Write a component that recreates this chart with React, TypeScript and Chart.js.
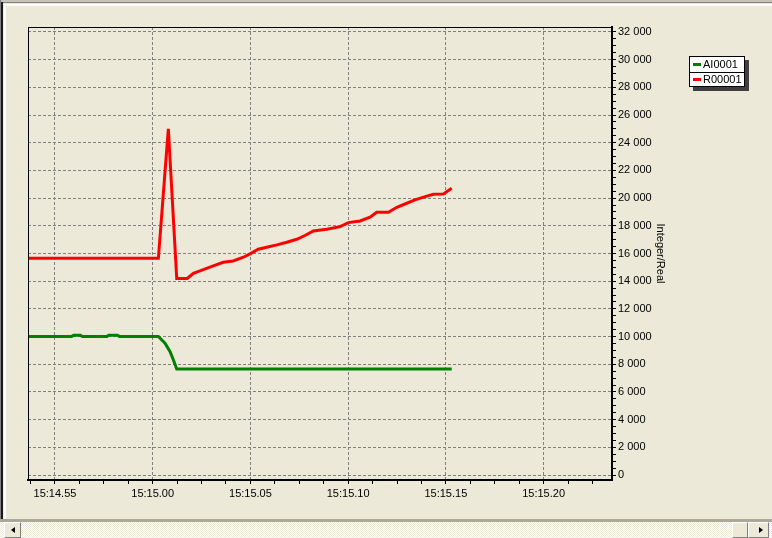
import React, { useEffect, useRef } from 'react';
import { Chart, registerables } from 'chart.js';

Chart.register(...registerables);

// Time axis: seconds after 15:14:55
const xTickLabels = ['15:14.55', '15:15.00', '15:15.05', '15:15.10', '15:15.15', '15:15.20'];
const xMajorStep = 5;
const xMinorStep = 1.25;
const X_MIN = -1.38;
const X_MAX = 28.5;
const Y_MIN = -361;
const Y_MAX = 32361;
const yMajorStep = 2000;
const yMinorStep = 500;
const yTop = 32000;
const axisTitle = 'Integer/Real';
const seriesNames = ['AI0001', 'R00001'];
const seriesColors = ['#008000', '#ff0000'];

const aiTimes = [-1.4, 0.85, 0.95, 1.3, 1.4, 2.65, 2.75, 3.2, 3.3, 5.29, 5.63, 5.89, 6.06, 6.23, 20.3];
const aiValues = [10000, 10000, 10100, 10100, 10000, 10000, 10100, 10100, 10000, 10000, 9520, 8910, 8310, 7660, 7650];

const rTimes = [-1.4, 5.29, 5.8, 6.23, 6.77, 7.08, 7.42, 8.1, 8.61, 9.12, 9.64, 9.98, 10.4, 10.83, 11.35, 11.86, 12.37, 12.79, 13.22, 13.9, 14.59, 15.01, 15.61, 16.12, 16.46, 17.06, 17.49, 18.0, 18.42, 18.94, 19.36, 19.87, 20.3];
const rValues = [15650, 15650, 25000, 14200, 14200, 14570, 14740, 15100, 15370, 15460, 15730, 15970, 16310, 16450, 16620, 16810, 17030, 17300, 17630, 17750, 17940, 18230, 18350, 18620, 18980, 18980, 19340, 19630, 19870, 20110, 20280, 20300, 20710];

const FONT = "'Liberation Sans', Arial, sans-serif";

function isMultiple(v: number, step: number) {
  const r = Math.abs(v / step - Math.round(v / step));
  return r < 1e-6;
}

function fmtThousands(v: number) {
  return String(Math.round(v)).replace(/\B(?=(\d{3})+(?!\d))/g, ' ');
}

export default function App() {
  const ref = useRef<HTMLCanvasElement>(null);

  useEffect(() => {
    document.body.style.margin = '0';
    const framePlugin = {
      id: 'frameLines',
      afterDraw(chart: any) {
        const { ctx, chartArea: a } = chart;
        ctx.save();
        ctx.fillStyle = '#000';
        ctx.fillRect(a.left, a.top, a.right - a.left, 1);
        ctx.fillRect(a.left, a.top, 1, a.bottom - a.top);
        ctx.restore();
      },
    };

    const xTicks: number[] = [];
    for (let v = Math.ceil(X_MIN / xMinorStep) * xMinorStep; v <= X_MAX; v += xMinorStep) xTicks.push(v);
    const yTicks: number[] = [];
    for (let v = 0; v <= yTop; v += yMinorStep) yTicks.push(v);

    const chart = new Chart(ref.current as HTMLCanvasElement, {
      type: 'line',
      data: {
        datasets: [
          {
            label: seriesNames[0],
            data: aiTimes.map((t, i) => ({ x: t, y: aiValues[i] })),
            borderColor: seriesColors[0],
            backgroundColor: seriesColors[0],
            borderWidth: 3,
            pointRadius: 0,
            tension: 0,
          },
          {
            label: seriesNames[1],
            data: rTimes.map((t, i) => ({ x: t, y: rValues[i] })),
            borderColor: seriesColors[1],
            backgroundColor: seriesColors[1],
            borderWidth: 3,
            pointRadius: 0,
            tension: 0,
          },
        ],
      },
      options: {
        responsive: false,
        animation: false,
        events: [],
        layout: { padding: { left: 28, top: 27, right: 101, bottom: 0 } },
        plugins: { legend: { display: false }, tooltip: { enabled: false } },
        scales: {
          x: {
            type: 'linear',
            min: X_MIN,
            max: X_MAX,
            afterBuildTicks: (s: any) => {
              s.ticks = xTicks.map((v) => ({ value: v }));
            },
            afterFit: (s: any) => {
              s.height = 39;
            },
            ticks: {
              autoSkip: false,
              maxRotation: 0,
              minRotation: 0,
              padding: 3,
              color: '#000',
              font: { family: FONT, size: 11 },
              callback: (v: any) => (isMultiple(Number(v), xMajorStep) ? xTickLabels[Math.round(Number(v) / xMajorStep)] ?? '' : ''),
            },
            grid: {
              color: (c: any) => (c.tick && isMultiple(c.tick.value, xMajorStep) ? '#808080' : 'rgba(0,0,0,0)'),
              tickColor: '#000',
              tickLength: 4,
              lineWidth: 1,
            },
            border: { color: '#000', width: 2, dash: [3, 2] },
          },
          y: {
            type: 'linear',
            position: 'right',
            min: Y_MIN,
            max: Y_MAX,
            afterBuildTicks: (s: any) => {
              s.ticks = yTicks.map((v) => ({ value: v }));
            },
            afterFit: (s: any) => {
              s.width = 59;
            },
            ticks: {
              autoSkip: false,
              padding: 2,
              color: '#000',
              font: { family: FONT, size: 11 },
              callback: (v: any) => (isMultiple(Number(v), yMajorStep) ? fmtThousands(Number(v)) : ''),
            },
            grid: {
              color: (c: any) => (c.tick && isMultiple(c.tick.value, yMajorStep) ? '#808080' : 'rgba(0,0,0,0)'),
              tickColor: '#000',
              tickLength: 4,
              lineWidth: 1,
            },
            border: { color: '#000', width: 2, dash: [3, 2] },
            title: {
              display: true,
              text: axisTitle,
              color: '#000',
              font: { family: FONT, size: 11 },
              padding: { top: 4, bottom: 4 },
            },
          },
        },
      },
      plugins: [framePlugin],
    } as any);
    return () => chart.destroy();
  }, []);

  const abs = (l: number, t: number, w: number, h: number, bg: string, extra: any = {}) => (
    <div style={{ position: 'absolute', left: l, top: t, width: w, height: h, background: bg, ...extra }} />
  );

  const btn = (l: number, dir: 'left' | 'right') => (
    <div
      style={{
        position: 'absolute',
        left: l,
        top: 522,
        width: dir === 'left' ? 17 : 21,
        height: 16,
        boxSizing: 'border-box',
        background: '#ECE9D8',
        borderTop: '1px solid #fff',
        borderLeft: '1px solid #fff',
        borderRight: '1px solid #808080',
        borderBottom: '1px solid #808080',
      }}
    >
      <div
        style={{
          position: 'absolute',
          top: 4,
          left: dir === 'left' ? 6 : 10,
          width: 0,
          height: 0,
          borderTop: '3.5px solid transparent',
          borderBottom: '3.5px solid transparent',
          ...(dir === 'left' ? { borderRight: '4px solid #000' } : { borderLeft: '4px solid #000' }),
        }}
      />
    </div>
  );

  const legendRow = (i: number, h: number, last: boolean) => (
    <div
      style={{
        height: h,
        display: 'flex',
        alignItems: 'center',
        paddingLeft: 3,
        borderBottom: last ? 'none' : '1px solid #000',
        fontFamily: FONT,
        fontSize: 11,
        lineHeight: '11px',
        color: '#000',
      }}
    >
      <div style={{ width: 8, height: 3, background: seriesColors[i], marginRight: 2 }} />
      <span>{seriesNames[i]}</span>
    </div>
  );

  return (
    <div style={{ position: 'absolute', left: 0, top: 0, width: 772, height: 538, background: '#ECE9D8', overflow: 'hidden' }}>
      {abs(0, 0, 772, 2, '#C8C5B8')}
      {abs(0, 2, 772, 1, '#808080')}
      {abs(0, 0, 1, 519, '#808080')}
      {abs(1, 2, 2, 517, '#1a1a1a')}
      {abs(4, 4, 768, 2, '#ffffff')}
      {abs(4, 4, 2, 515, '#ffffff')}
      {abs(0, 519, 772, 3, '#ACA899')}
      {abs(0, 522, 772, 16, '#F6F5EF', {
        background: 'repeating-conic-gradient(#ffffff 0 25%, #ECE9D8 0 50%) 0 0 / 2px 2px',
      })}
      {btn(4, 'left')}
      {abs(732, 522, 16, 16, '#ECE9D8', { boxSizing: 'border-box', borderTop: '1px solid #fff', borderLeft: '1px solid #fff', borderRight: '1px solid #808080', borderBottom: '1px solid #808080' })}
      {btn(748, 'right')}
      <canvas ref={ref} width={772} height={519} style={{ position: 'absolute', left: 0, top: 0, width: 772, height: 519 }} />
      <div
        style={{
          position: 'absolute',
          left: 689,
          top: 56,
          width: 56,
          height: 31,
          boxSizing: 'border-box',
          border: '1px solid #000',
          background: '#fff',
          boxShadow: '4px 4px 0 #404040',
        }}
      >
        {legendRow(0, 15, false)}
        {legendRow(1, 13, true)}
      </div>
    </div>
  );
}
